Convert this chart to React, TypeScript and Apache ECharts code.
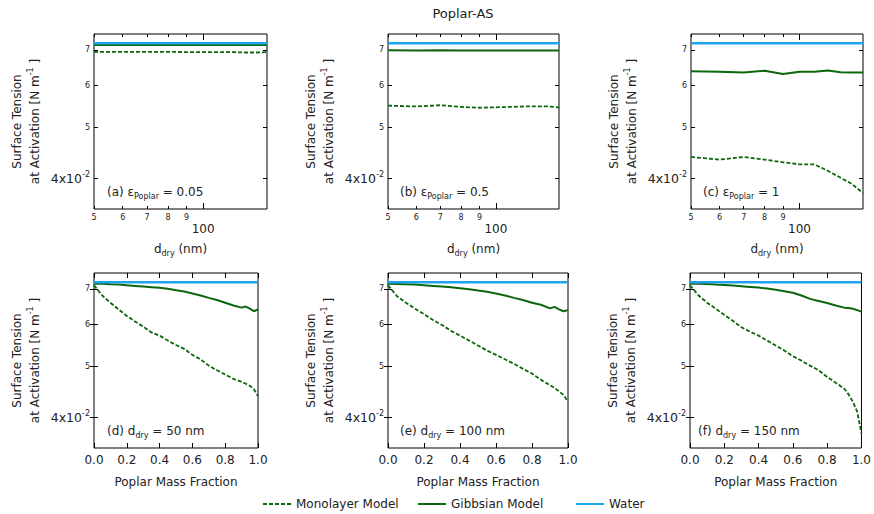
import { useEffect, useRef } from 'react';
import * as echarts from 'echarts';

// ---------------- data ----------------
const dryDiameters = [50, 60, 70, 80, 90, 100, 110, 120, 130, 140, 150];
const massFractions = [0, 0.05, 0.1, 0.15, 0.2, 0.25, 0.3, 0.35, 0.4, 0.45, 0.5, 0.55, 0.6, 0.65, 0.7, 0.75, 0.8, 0.85, 0.9, 0.925, 0.95, 0.975, 1];
const waterTension = 0.072;

const monolayerA = [0.0694, 0.0694, 0.0694, 0.0694, 0.0693, 0.0693, 0.0693, 0.0693, 0.0692, 0.0692, 0.0693];
const gibbsianA = [0.0715, 0.0715, 0.0715, 0.0715, 0.0715, 0.0715, 0.0715, 0.0715, 0.0715, 0.0715, 0.0715];
const monolayerB = [0.0549, 0.0547, 0.055, 0.0546, 0.0544, 0.0545, 0.0546, 0.0547, 0.0547, 0.0547, 0.0545];
const gibbsianB = [0.0699, 0.0698, 0.0699, 0.0698, 0.0698, 0.0698, 0.0698, 0.0698, 0.0698, 0.0698, 0.0698];
const monolayerC = [0.0439, 0.0434, 0.0439, 0.0434, 0.0429, 0.0425, 0.0425, 0.0413, 0.0401, 0.039, 0.0375];
const gibbsianC = [0.0638, 0.0636, 0.0634, 0.0639, 0.063, 0.0636, 0.0636, 0.064, 0.0635, 0.0634, 0.0634];

const monolayerD = [0.0711, 0.068, 0.0659, 0.064, 0.0622, 0.0607, 0.0594, 0.0579, 0.0571, 0.0559, 0.0548, 0.0539, 0.0525, 0.0515, 0.0501, 0.0491, 0.0482, 0.0473, 0.0467, 0.0463, 0.0459, 0.0452, 0.0439];
const gibbsianD = [0.0716, 0.0716, 0.0714, 0.0713, 0.0711, 0.0709, 0.0707, 0.0705, 0.0703, 0.07, 0.0696, 0.0692, 0.0686, 0.068, 0.0673, 0.0667, 0.0659, 0.0651, 0.0645, 0.0648, 0.0642, 0.0635, 0.064];
const monolayerE = [0.0711, 0.0678, 0.0659, 0.0642, 0.0627, 0.0611, 0.0598, 0.0583, 0.0571, 0.0559, 0.0547, 0.0535, 0.0525, 0.0515, 0.0505, 0.0494, 0.0484, 0.0471, 0.046, 0.0455, 0.0448, 0.0441, 0.0428];
const gibbsianE = [0.0716, 0.0715, 0.0714, 0.0713, 0.0711, 0.0709, 0.0707, 0.0705, 0.0702, 0.0699, 0.0695, 0.0691, 0.0686, 0.068, 0.0673, 0.0667, 0.0659, 0.0653, 0.0643, 0.0647, 0.064, 0.0635, 0.0638];
const monolayerF = [0.0711, 0.068, 0.0659, 0.0642, 0.0625, 0.0609, 0.0592, 0.0581, 0.0571, 0.0559, 0.0547, 0.0535, 0.0522, 0.0512, 0.0501, 0.0491, 0.0477, 0.0465, 0.0453, 0.0442, 0.0428, 0.041, 0.0373];
const gibbsianF = [0.0716, 0.0716, 0.0715, 0.0713, 0.0712, 0.071, 0.0708, 0.0706, 0.0704, 0.0701, 0.0697, 0.0693, 0.0688, 0.068, 0.067, 0.0664, 0.0658, 0.0651, 0.0645, 0.0644, 0.0642, 0.0638, 0.0634];

const tensionTicks = [0.04, 0.05, 0.06, 0.07];
const diameterMinorTicks = [50, 60, 70, 80, 90];
const diameterMajorTicks = [100];
const diameterLabels = [50, 60, 70, 80, 90, 100];
const fractionTicks = [0, 0.2, 0.4, 0.6, 0.8, 1];

const panels = [
  { label: '(a) ε{sub|Poplar} = 0.05', kind: 'dry', mono: monolayerA, gibbs: gibbsianA },
  { label: '(b) ε{sub|Poplar} = 0.5', kind: 'dry', mono: monolayerB, gibbs: gibbsianB },
  { label: '(c) ε{sub|Poplar} = 1', kind: 'dry', mono: monolayerC, gibbs: gibbsianC },
  { label: '(d) d{sub|dry} = 50 nm', kind: 'frac', mono: monolayerD, gibbs: gibbsianD },
  { label: '(e) d{sub|dry} = 100 nm', kind: 'frac', mono: monolayerE, gibbs: gibbsianE },
  { label: '(f) d{sub|dry} = 150 nm', kind: 'frac', mono: monolayerF, gibbs: gibbsianF },
];

// ---------------- layout / style ----------------
const layout = [
  { left: 94, top: 34, width: 173, height: 175, lx: 107, ly: 192 },
  { left: 388, top: 34, width: 171, height: 175, lx: 400, ly: 192 },
  { left: 691, top: 34, width: 172, height: 175, lx: 703, ly: 192 },
  { left: 94, top: 273, width: 164, height: 175, lx: 107, ly: 431 },
  { left: 388, top: 273, width: 180, height: 175, lx: 400, ly: 431 },
  { left: 690, top: 273, width: 173, height: 175, lx: 698, ly: 431 },
];

const FONT = 'DejaVu Sans';
const GREEN = '#0c660c';
const BLUE = '#1ea4ef';
const TEXT = '#222';
const Y_MIN = 0.035;
const Y_MAX = 0.075;

function buildOption() {
  const grid: any[] = [];
  const xAxis: any[] = [];
  const yAxis: any[] = [];
  const series: any[] = [];
  const graphic: any[] = [];

  panels.forEach((p, i) => {
    const L = layout[i];
    grid.push({
      left: L.left, top: L.top, width: L.width, height: L.height,
      show: true, borderColor: '#000', borderWidth: 1, backgroundColor: 'transparent',
    });
    const xMain = xAxis.length;
    const common = { gridIndex: i, splitLine: { show: false }, axisLine: { show: false } };
    if (p.kind === 'dry') {
      const base = { ...common, type: 'log', logBase: 10, min: 50, max: 150 };
      xAxis.push({
        ...base, position: 'bottom',
        axisTick: { inside: true, length: 3, customValues: diameterMinorTicks, lineStyle: { color: '#000' } },
        axisLabel: {
          customValues: diameterLabels, margin: 4, color: TEXT,
          formatter: (v: number) => (Math.round(v) === 100 ? '{big|100}' : '{small|' + Math.round(v / 10) + '}'),
          rich: {
            small: { fontSize: 8, fontFamily: FONT, color: TEXT },
            big: { fontSize: 12, fontFamily: FONT, color: TEXT, padding: [10, 0, 0, 0] },
          },
        },
        name: 'd{sub|dry} (nm)', nameLocation: 'middle', nameGap: 32,
        nameTextStyle: {
          fontSize: 12, fontFamily: FONT, color: TEXT, lineHeight: 16,
          rich: { sub: { fontSize: 8, fontFamily: FONT, color: TEXT, verticalAlign: 'bottom', lineHeight: 16 } },
        },
      });
      xAxis.push({ ...base, position: 'top', axisLabel: { show: false },
        axisTick: { inside: true, length: 3, customValues: diameterMinorTicks, lineStyle: { color: '#000' } } });
      xAxis.push({ ...base, position: 'bottom', axisLabel: { show: false },
        axisTick: { inside: true, length: 6, customValues: diameterMajorTicks, lineStyle: { color: '#000' } } });
      xAxis.push({ ...base, position: 'top', axisLabel: { show: false },
        axisTick: { inside: true, length: 6, customValues: diameterMajorTicks, lineStyle: { color: '#000' } } });
    } else {
      const base = { ...common, type: 'value', min: 0, max: 1, interval: 0.2 };
      xAxis.push({
        ...base, position: 'bottom',
        axisTick: { inside: true, length: 5, customValues: fractionTicks, lineStyle: { color: '#000' } },
        axisLabel: {
          customValues: fractionTicks, margin: 6, color: TEXT, fontSize: 12, fontFamily: FONT,
          formatter: (v: number) => v.toFixed(1),
        },
        name: 'Poplar Mass Fraction', nameLocation: 'middle', nameGap: 28,
        nameTextStyle: { fontSize: 12, fontFamily: FONT, color: TEXT },
      });
      xAxis.push({ ...base, position: 'top', axisLabel: { show: false },
        axisTick: { inside: true, length: 5, customValues: fractionTicks, lineStyle: { color: '#000' } } });
    }
    const yBase = { ...common, type: 'log', logBase: 10, min: Y_MIN, max: Y_MAX };
    const yMain = yAxis.length;
    yAxis.push({
      ...yBase, position: 'left',
      axisTick: { inside: true, length: 4, customValues: tensionTicks, lineStyle: { color: '#000' } },
      axisLabel: {
        customValues: tensionTicks, margin: 4, color: TEXT,
        formatter: (v: number) => (Math.abs(v - 0.04) < 1e-6 ? '{big|4x10}{sup|-2}' : '{small|' + Math.round(v * 100) + '}'),
        rich: {
          small: { fontSize: 8, fontFamily: FONT, color: TEXT },
          big: { fontSize: 12.5, fontFamily: FONT, color: TEXT, lineHeight: 15 },
          sup: { fontSize: 8, fontFamily: FONT, color: TEXT, verticalAlign: 'top', lineHeight: 9 },
        },
      },
      name: 'Surface Tension\nat Activation [N m{sup|-1} ]', nameLocation: 'middle', nameGap: 50, nameRotate: 90,
      nameTextStyle: {
        fontSize: 12, fontFamily: FONT, color: TEXT, lineHeight: 18,
        rich: { sup: { fontSize: 8, fontFamily: FONT, color: TEXT, verticalAlign: 'top', lineHeight: 9 } },
      },
    });
    yAxis.push({ ...yBase, position: 'right', axisLabel: { show: false },
      axisTick: { inside: true, length: 4, customValues: tensionTicks, lineStyle: { color: '#000' } } });

    const xs = p.kind === 'dry' ? dryDiameters : massFractions;
    const lineCommon = { type: 'line', xAxisIndex: xMain, yAxisIndex: yMain, showSymbol: false, symbol: 'none', silent: true };
    series.push({ ...lineCommon, name: 'Monolayer Model', data: xs.map((x, k) => [x, p.mono[k]]),
      lineStyle: { color: GREEN, width: 1.8, type: [4, 2] }, itemStyle: { color: GREEN } });
    series.push({ ...lineCommon, name: 'Gibbsian Model', data: xs.map((x, k) => [x, p.gibbs[k]]),
      lineStyle: { color: GREEN, width: 2 }, itemStyle: { color: GREEN } });
    series.push({ ...lineCommon, name: 'Water', data: [[xs[0], waterTension], [xs[xs.length - 1], waterTension]],
      lineStyle: { color: BLUE, width: 2.5 }, itemStyle: { color: BLUE } });

    graphic.push({
      type: 'text', x: L.lx, y: L.ly,
      style: {
        text: p.label, fontSize: 12, fontFamily: FONT, fill: TEXT, verticalAlign: 'middle', lineHeight: 16,
        rich: { sub: { fontSize: 8, fontFamily: FONT, verticalAlign: 'bottom', lineHeight: 16 } },
      },
    });
  });

  graphic.push({
    type: 'text', x: 463, y: 13,
    style: { text: 'Poplar-AS', fontSize: 13, fontFamily: FONT, fill: TEXT, align: 'center', verticalAlign: 'middle' },
  });

  const legendCommon = {
    top: 498, itemWidth: 28, itemHeight: 10, selectedMode: false, padding: 0,
    itemStyle: { opacity: 0 },
    textStyle: { fontSize: 12, fontFamily: FONT, color: TEXT },
  };

  return {
    animation: false,
    backgroundColor: '#fff',
    grid, xAxis, yAxis, series, graphic,
    legend: [
      { ...legendCommon, left: 262, data: ['Monolayer Model'] },
      { ...legendCommon, left: 417, data: ['Gibbsian Model'] },
      { ...legendCommon, left: 575, data: ['Water'] },
    ],
  };
}

export default function App() {
  const ref = useRef<HTMLDivElement>(null);
  useEffect(() => {
    const chart = echarts.init(ref.current as HTMLDivElement, null, { renderer: 'svg' });
    chart.setOption(buildOption() as any);
    return () => chart.dispose();
  }, []);
  return (
    <div
      ref={ref}
      style={{ position: 'absolute', left: 0, top: 0, width: 874, height: 514, background: '#fff' }}
    />
  );
}
